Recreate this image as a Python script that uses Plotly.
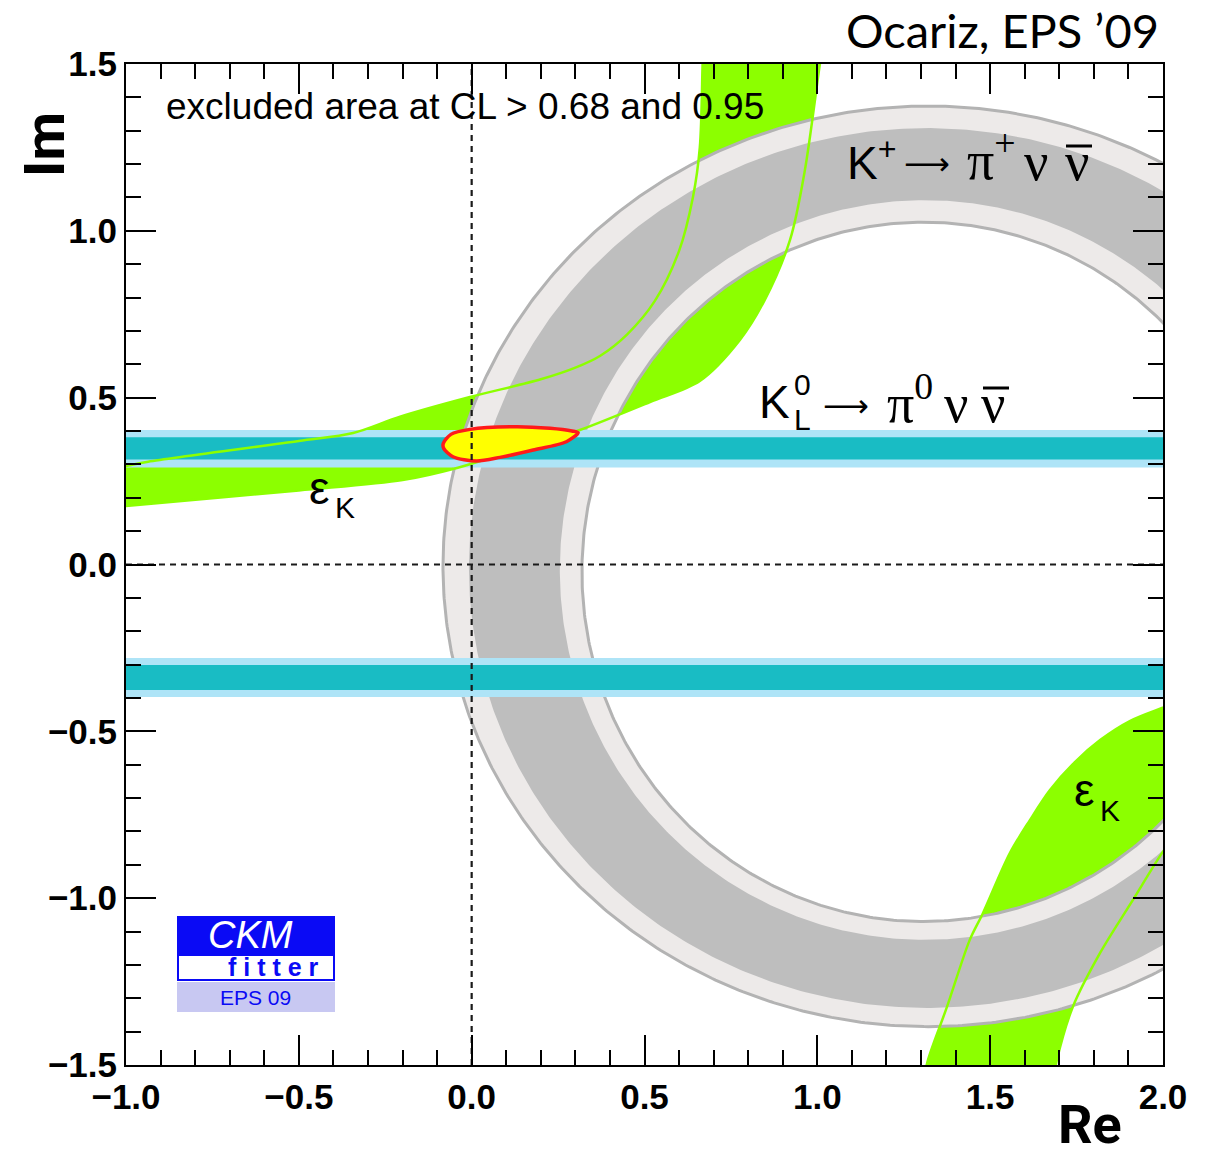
import numpy as np
import plotly.graph_objects as go

# ---------------- data ----------------
# K+ -> pi+ nu nubar ring: ellipse boundaries (outer 95%, outer 68%, inner 68%, inner 95%)
RING_CX = [1.321, 1.317, 1.311, 1.307]
RING_CY = [-0.0055, -0.0105, -0.0165, -0.022]
RING_RX = [1.404, 1.325, 1.056, 0.988]
RING_RY = [1.3795, 1.3185, 1.1085, 1.048]

# K_L -> pi0 nu nubar horizontal bands (Im limits)
KL_UP_95 = [0.291, 0.403]
KL_UP_68 = [0.315, 0.381]
KL_LO_95 = [-0.397, -0.280]
KL_LO_68 = [-0.376, -0.301]

# epsilon_K band, upper-left branch: lower/right edge (A) and upper/left edge (B)
EPSK_A_RE = [-1.05, -1.0, -0.5, -0.2, -0.04, 0.1, 0.2, 0.313, 0.516, 0.66, 0.776, 0.848, 0.921, 0.964, 1.007, 1.017]
EPSK_A_IM = [0.170, 0.175, 0.222, 0.253, 0.290, 0.335, 0.365, 0.403, 0.487, 0.550, 0.673, 0.793, 0.973, 1.182, 1.497, 1.56]
EPSK_B_RE = [-1.05, -1.0, -0.936, -0.5, -0.343, -0.207, -0.005, 0.20, 0.30, 0.371, 0.45, 0.53, 0.60, 0.64, 0.66, 0.668, 0.670]
EPSK_B_IM = [0.285, 0.295, 0.308, 0.370, 0.394, 0.443, 0.502, 0.555, 0.590, 0.625, 0.690, 0.790, 0.940, 1.100, 1.250, 1.497, 1.56]
# epsilon_K band, lower-right branch: upper/left edge (C) and lower/right edge (D)
EPSK_C_RE = [2.05, 1.997, 1.904, 1.818, 1.745, 1.673, 1.615, 1.557, 1.479, 1.441, 1.375, 1.320, 1.305]
EPSK_C_IM = [-0.41, -0.43, -0.469, -0.526, -0.592, -0.676, -0.766, -0.865, -1.045, -1.125, -1.326, -1.485, -1.56]
EPSK_D_RE = [2.05, 1.997, 1.913, 1.818, 1.739, 1.693, 1.680]
EPSK_D_IM = [-0.79, -0.865, -1.005, -1.164, -1.326, -1.485, -1.56]

# combined fit region (yellow)
FIT_RE = [-0.082, -0.060, -0.005, 0.130, 0.227, 0.290, 0.308, 0.274, 0.178, 0.082, 0.014, -0.054, -0.081, -0.082]
FIT_IM = [0.363, 0.390, 0.405, 0.413, 0.408, 0.400, 0.395, 0.368, 0.343, 0.321, 0.310, 0.323, 0.348, 0.363]

X_TICKS = [-1.0, -0.5, 0.0, 0.5, 1.0, 1.5, 2.0]
Y_TICKS = [-1.5, -1.0, -0.5, 0.0, 0.5, 1.0, 1.5]
X_RANGE = [-1.0, 2.0]
Y_RANGE = [-1.5, 1.5]

# ---------------- styles ----------------
GREEN = "#8cff00"
LIGHT_GRAY = "#edeae9"
DARK_GRAY = "#bebebe"
RING_LINE = "#b3b3b3"
TEAL_DARK = "#19bcc4"
TEAL_LIGHT = "#aee4f7"

W, H = 1215, 1156
PL, PR, PT, PB = 126, 1163, 64, 1065


def px(x):
    return (x - PL) / (PR - PL)


def py(y):
    return (PB - y) / (PB - PT)


def ellipse(i, reverse=False):
    th = np.linspace(0, 2 * np.pi, 721)
    if reverse:
        th = th[::-1]
    return RING_CX[i] + RING_RX[i] * np.cos(th), RING_CY[i] + RING_RY[i] * np.sin(th)


fig = go.Figure()

# epsilon_K fills
fig.add_trace(go.Scatter(x=EPSK_A_RE + EPSK_B_RE[::-1], y=EPSK_A_IM + EPSK_B_IM[::-1],
                         fill="toself", fillcolor=GREEN, mode="lines",
                         line=dict(width=0, shape="spline", smoothing=0.9), hoverinfo="skip"))
fig.add_trace(go.Scatter(x=EPSK_C_RE + EPSK_D_RE[::-1], y=EPSK_C_IM + EPSK_D_IM[::-1],
                         fill="toself", fillcolor=GREEN, mode="lines",
                         line=dict(width=0, shape="spline", smoothing=0.9), hoverinfo="skip"))

# ring fills (annuli)
for (io, ii, col) in [(0, 3, LIGHT_GRAY), (1, 2, DARK_GRAY)]:
    xo, yo = ellipse(io)
    xi, yi = ellipse(ii, reverse=True)
    fig.add_trace(go.Scatter(x=np.concatenate([xo, xi]), y=np.concatenate([yo, yi]),
                             fill="toself", fillcolor=col, mode="lines",
                             line=dict(width=0), hoverinfo="skip"))
for i in (0, 3):
    xe, ye = ellipse(i)
    fig.add_trace(go.Scatter(x=xe, y=ye, mode="lines", line=dict(color=RING_LINE, width=3),
                             hoverinfo="skip"))

# K_L bands
for band, col in [(KL_UP_95, TEAL_LIGHT), (KL_LO_95, TEAL_LIGHT), (KL_UP_68, TEAL_DARK), (KL_LO_68, TEAL_DARK)]:
    fig.add_trace(go.Scatter(x=[X_RANGE[0] - 0.05, X_RANGE[1] + 0.05, X_RANGE[1] + 0.05, X_RANGE[0] - 0.05],
                             y=[band[0], band[0], band[1], band[1]],
                             fill="toself", fillcolor=col, mode="lines", line=dict(width=0),
                             hoverinfo="skip"))

# epsilon_K contour lines
for xs, ys in [(EPSK_A_RE, EPSK_A_IM), (EPSK_B_RE, EPSK_B_IM), (EPSK_C_RE, EPSK_C_IM), (EPSK_D_RE, EPSK_D_IM)]:
    fig.add_trace(go.Scatter(x=xs, y=ys, mode="lines",
                             line=dict(color=GREEN, width=2.5, shape="spline", smoothing=0.9),
                             hoverinfo="skip"))

# combined fit
fig.add_trace(go.Scatter(x=FIT_RE, y=FIT_IM, fill="toself", fillcolor="#ffff00", mode="lines",
                         line=dict(color="#ff1a1a", width=3.5, shape="spline", smoothing=0.8),
                         hoverinfo="skip"))

# dashed zero lines
fig.add_trace(go.Scatter(x=[0, 0], y=Y_RANGE, mode="lines",
                         line=dict(color="#1a1a1a", width=2.2, dash="6px,5px"), hoverinfo="skip"))
fig.add_trace(go.Scatter(x=X_RANGE, y=[0, 0], mode="lines",
                         line=dict(color="#1a1a1a", width=2.2, dash="6px,5px"), hoverinfo="skip"))

axis_common = dict(showgrid=False, zeroline=False, showline=True, linecolor="black", linewidth=2,
                   mirror="ticks", ticks="inside", ticklen=30, tickwidth=2, tickcolor="black",
                   tickformat=".1f",
                   tickfont=dict(family="Liberation Sans", size=35, color="black", weight="bold"),
                   minor=dict(dtick=0.1, ticks="inside", ticklen=15, tickwidth=2, tickcolor="black"))

fig.update_layout(
    width=W, height=H, autosize=False,
    margin=dict(l=PL, r=W - PR, t=PT, b=H - PB),
    paper_bgcolor="white", plot_bgcolor="white",
    showlegend=False,
    xaxis=dict(range=X_RANGE, tickvals=X_TICKS, **axis_common),
    yaxis=dict(range=Y_RANGE, tickvals=Y_TICKS, **axis_common),
)

ann = []


def add_text(text, x, y, size, family="Liberation Sans", color="black", xanchor="left",
             yanchor="middle", weight="normal", style="normal", angle=0):
    ann.append(dict(text=text, x=px(x), y=py(y), xref="paper", yref="paper", showarrow=False,
                    xanchor=xanchor, yanchor=yanchor, textangle=angle, borderpad=0,
                    font=dict(family=family, size=size, color=color, weight=weight, style=style)))


add_text("Ocariz, EPS ’09", 1160, 30, 47, family="Lato", xanchor="right")
add_text("Im", 45, 145, 56, family="Roboto", weight="bold", xanchor="center", angle=-90)
add_text("Re", 1090, 1124, 54, family="Roboto", weight="bold", xanchor="center")
add_text("excluded area at CL &gt; 0.68 and 0.95", 165, 106, 37)

SERIF = "Liberation Serif"
ARROW_FONT = "DejaVu Sans"
# K+ -> pi+ nu nubar
add_text("K<sup>+</sup>", 846, 160, 46)
add_text("⟶", 903, 164, 32, family=ARROW_FONT)
add_text("π<sup>+</sup>", 966, 157, 54, family=SERIF)
add_text("ν", 1023, 162, 54, family=SERIF)
add_text("ν", 1064, 162, 54, family=SERIF)
# K_L -> pi0 nu nubar
add_text("K", 758, 402, 46)
add_text("0", 793, 384, 30)
add_text("L", 793, 420, 30)
add_text("⟶", 822, 406, 32, family=ARROW_FONT)
add_text("π<sup>0</sup>", 886, 399, 54, family=SERIF)
add_text("ν", 943, 404, 54, family=SERIF)
add_text("ν", 980, 404, 54, family=SERIF)

add_text("ε", 308, 488, 46)
add_text("K", 334, 508, 30)
add_text("ε", 1073, 790, 46)
add_text("K", 1099, 810, 30)

# CKMfitter logo and antineutrino bars
shapes = [
    dict(type="rect", xref="paper", yref="paper", x0=px(177), x1=px(335), y0=py(954), y1=py(916),
         fillcolor="#0a0af5", line=dict(width=0), layer="above"),
    dict(type="rect", xref="paper", yref="paper", x0=px(178), x1=px(334), y0=py(980), y1=py(955),
         fillcolor="white", line=dict(color="#0a0af5", width=2), layer="above"),
    dict(type="rect", xref="paper", yref="paper", x0=px(177), x1=px(335), y0=py(1012), y1=py(982),
         fillcolor="#c8c8f2", line=dict(width=0), layer="above"),
    dict(type="line", xref="paper", yref="paper", x0=px(1066), x1=px(1092), y0=py(146), y1=py(146),
         line=dict(color="black", width=3), layer="above"),
    dict(type="line", xref="paper", yref="paper", x0=px(983), x1=px(1009), y0=py(388), y1=py(388),
         line=dict(color="black", width=3), layer="above"),
]
add_text("CKM", 250, 935, 38, color="white", xanchor="center", style="italic")
add_text("f i t t e r", 273, 967, 25, color="#0a0af5", xanchor="center", weight="bold")
add_text("EPS 09", 255, 997, 21, color="#0a0af5", xanchor="center")

fig.update_layout(annotations=ann, shapes=shapes)
fig.write_html("out.html")
